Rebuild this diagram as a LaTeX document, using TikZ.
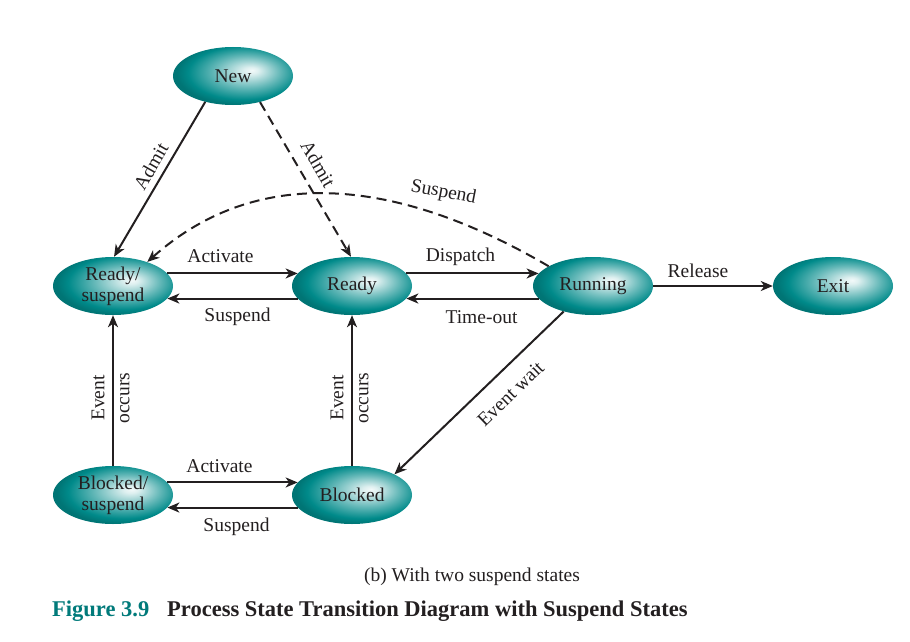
\documentclass[tikz,border=0pt]{standalone}
\usepackage{fontspec}
\setmainfont{Liberation Serif}
\usetikzlibrary{shapes.geometric,arrows.meta,calc}
\definecolor{tealc}{RGB}{0,138,138}
\definecolor{figteal}{RGB}{0,122,122}
\definecolor{ink}{RGB}{35,31,32}
\pgfdeclareradialshading{tealball}{\pgfpoint{8bp}{5bp}}{color(0bp)=(white!95!tealc); color(3bp)=(white!87!tealc); color(14bp)=(white!38!tealc); color(23bp)=(tealc); color(27bp)=(tealc!85!black); color(50bp)=(tealc!85!black)}
\begin{document}
\begin{tikzpicture}[x=1pt,y=-1pt,
  state/.style={ellipse, shading=tealball, minimum width=120pt, minimum height=58pt, inner sep=0pt, align=center, text=ink, font=\fontsize{19.5}{21}\selectfont},
  lbl/.style={text=ink, font=\fontsize{19.5}{25}\selectfont, inner sep=0pt, align=center},
  arr/.style={-{Stealth[length=12pt,width=10pt,inset=3.5pt]}, line width=2pt, draw=ink},
  darr/.style={arr, dash pattern=on 10pt off 6pt}]
\fill[white] (0,0) rectangle (910,642);
\useasboundingbox (0,0) rectangle (910,642);

\node[state] (new) at (233,76) {New};
\node[state] (rs) at (113,286) {Ready/\\suspend};
\node[state] (rd) at (352,286) {Ready};
\node[state] (rn) at (593,286) {Running};
\node[state] (ex) at (833,286) {Exit};
\node[state] (bs) at (113,495) {Blocked/\\suspend};
\node[state] (bl) at (352,495) {Blocked};

\draw[arr] (rs.13) -- node[lbl, midway, xshift=-12pt, yshift=17pt] (l1) {Activate} (rd.167);
\draw[arr] (rd.193) -- node[lbl, midway, xshift=5pt, yshift=-18pt] (l2) {Suspend} (rs.347);
\draw[arr] (rd.13) -- node[lbl, midway, xshift=-12pt, yshift=17pt] (l3) {Dispatch} (rn.167);
\draw[arr] (rn.193) -- node[lbl, midway, xshift=9pt, yshift=-18.5pt] (l4) {Time-out} (rd.347);
\draw[arr] (rn.east) -- node[lbl, midway, xshift=-15pt, yshift=15pt] (l5) {Release} (ex.west);
\draw[arr] (bs.13) -- node[lbl, midway, xshift=-13pt, yshift=16pt] (l6) {Activate} (bl.167);
\draw[arr] (bl.193) -- node[lbl, midway, xshift=4pt, yshift=-19pt] (l7) {Suspend} (bs.347);
\draw[arr] (bs.north) -- node[lbl, pos=0.45, xshift=-2.5pt, rotate=90] (l8) {Event\\occurs} (rs.south);
\draw[arr] (bl.north) -- node[lbl, pos=0.45, xshift=-2.5pt, rotate=90] (l9) {Event\\occurs} (rd.south);
\draw[arr] (rn.221) -- node[lbl, midway, xshift=31.5pt, yshift=-1pt, rotate=44] (l10) {Event wait} (bl.26);
\draw[arr] (new.223) -- node[lbl, midway, xshift=-8.7pt, yshift=12.9pt, rotate=60] (l11) {Admit} (rs.88);
\draw[darr] (new.316) -- node[lbl, midway, xshift=12.6pt, yshift=15.5pt, rotate=-60] (l12) {Admit} (rd.92);
\draw[darr] (rn.156) .. controls (405,182) and (262,160) .. node[lbl, pos=0.25, xshift=2pt, yshift=23pt, rotate=-11] (l13) {Suspend} (rs.35);

\node[lbl] (cap) at (472,577) {(b) With two suspend states};
\node[lbl, anchor=west, font=\fontsize{22.5}{27}\selectfont\bfseries, text=figteal] (fig) at (52,611) {Figure 3.9};
\node[lbl, anchor=west, font=\fontsize{22.5}{27}\selectfont\bfseries] (title) at (167,611) {Process State Transition Diagram with Suspend States};
\end{tikzpicture}
\end{document}
